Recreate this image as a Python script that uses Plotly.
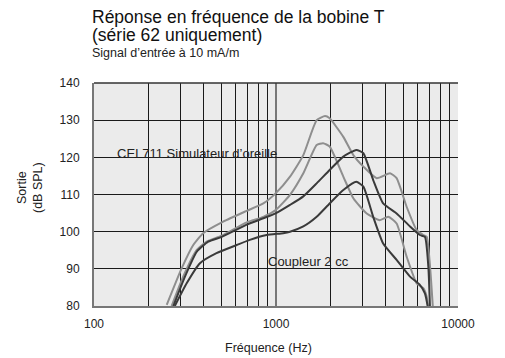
import plotly.graph_objects as go

# Frequencies (Hz) and output (dB SPL)
cei_high_f = [251, 303, 351, 398, 513, 690, 852, 995, 1194, 1413, 1673, 1860, 1972, 2344, 2660, 3020, 3575, 4230, 4600, 5220, 5930, 6446, 6730, 7020, 7290]
cei_high_v = [80.3, 90.1, 96.4, 99.6, 102.7, 105.6, 107.6, 110.3, 114.8, 120.6, 130.0, 131.1, 130.5, 125.5, 120.6, 117.5, 114.4, 115.7, 114.4, 106.7, 100.4, 99.1, 98.6, 90.6, 79.0]

cei_low_f = [267, 309, 367, 416, 503, 690, 852, 995, 1194, 1413, 1673, 1815, 1972, 2344, 2660, 3150, 3720, 4140, 4600, 5220, 5930, 6446, 6730, 6870]
cei_low_v = [80.0, 87.9, 95.1, 97.3, 98.9, 102.5, 104.0, 105.8, 109.9, 115.7, 123.3, 123.8, 122.9, 114.8, 109.0, 104.9, 103.1, 104.0, 102.2, 93.3, 86.1, 84.8, 82.5, 79.0]

cpl_high_f = [273, 316, 367, 424, 503, 690, 852, 995, 1194, 1413, 1673, 1972, 2344, 2763, 3020, 3420, 3880, 4600, 5450, 6170, 6580, 6870, 7020]
cpl_high_v = [80.0, 87.9, 94.6, 97.3, 98.6, 101.9, 103.6, 104.9, 107.2, 109.5, 113.0, 116.6, 120.2, 122.0, 121.1, 113.9, 107.6, 104.9, 101.4, 99.1, 98.6, 90.6, 79.0]

cpl_low_f = [278, 323, 382, 471, 608, 718, 888, 1095, 1194, 1413, 1673, 1972, 2344, 2763, 3020, 3420, 3880, 4600, 5450, 6170, 6580, 6870]
cpl_low_v = [80.0, 86.1, 91.5, 94.2, 96.4, 97.8, 99.1, 99.6, 100.0, 101.4, 104.0, 107.6, 111.2, 113.4, 112.1, 104.0, 96.8, 92.4, 87.9, 85.7, 83.4, 79.0]

x_ticks = [100, 1000, 10000]
y_ticks = [80, 90, 100, 110, 120, 130, 140]

LIGHT = "#8e8e8e"
DARK = "#3a3a3a"
FONT = "Liberation Sans, Arial, sans-serif"

fig = go.Figure()
for fx, vy, col in [(cei_high_f, cei_high_v, LIGHT), (cei_low_f, cei_low_v, LIGHT),
                    (cpl_high_f, cpl_high_v, DARK), (cpl_low_f, cpl_low_v, DARK)]:
    fig.add_trace(go.Scatter(x=fx, y=vy, mode="lines", line=dict(color=col, width=2, shape="spline", smoothing=0.5),
                             showlegend=False, hoverinfo="skip"))

fig.update_layout(
    width=505, height=358,
    margin=dict(l=94, r=47, t=83, b=52),
    paper_bgcolor="white", plot_bgcolor="#ebebeb",
    font=dict(family=FONT, size=12, color="#222"),
    showlegend=False,
)
fig.update_xaxes(
    type="log", range=[2, 4], tickvals=x_ticks, ticktext=[str(v) for v in x_ticks],
    showgrid=True, gridcolor="#777", gridwidth=2,
    minor=dict(dtick="D1", showgrid=True, gridcolor="#1a1a1a", gridwidth=1.3, ticks=""),
    ticks="", showline=True, linecolor="#777", linewidth=2, mirror=False,
    tickfont=dict(size=12, color="#222"), zeroline=False, ticklabelstandoff=6,
)
fig.update_yaxes(
    range=[80, 140], tickvals=y_ticks, showgrid=True, gridcolor="#1a1a1a", gridwidth=1.3,
    ticks="", showline=True, linecolor="#777", linewidth=2,
    tickfont=dict(size=12, color="#222"), zeroline=False, ticklabelstandoff=10,
)
# top border
fig.add_shape(type="line", xref="paper", yref="paper", x0=0, x1=1, y0=1, y1=1, line=dict(color="#333", width=1.5))

ann = [
    dict(text="Réponse en fréquence de la bobine T", x=91, y=6, size=17.5, color="#111"),
    dict(text="(série 62 uniquement)", x=91, y=24, size=17.5, color="#111"),
    dict(text="Signal d’entrée à 10 mA/m", x=91, y=45, size=12.5, color="#222"),
]
for a in ann:
    fig.add_annotation(text=a["text"], xref="paper", yref="paper",
                       x=(a["x"] - 94) / 364, y=1 - (a["y"] - 83) / 223,
                       xanchor="left", yanchor="top", showarrow=False, borderpad=0,
                       font=dict(size=a["size"], color=a["color"], family=FONT))

fig.add_annotation(text="CEI 711 Simulateur d’oreille", xref="paper", yref="y", x=(115 - 94) / 364, y=121.1,
                   xanchor="left", yanchor="middle", showarrow=False, font=dict(size=13, color="#222"))
fig.add_annotation(text="Coupleur 2 cc", xref="paper", yref="y", x=(266 - 94) / 364, y=91.9,
                   xanchor="left", yanchor="middle", showarrow=False, font=dict(size=13, color="#222"))
fig.add_annotation(text="Sortie<br>(dB SPL)", xref="paper", yref="paper", x=(30 - 94) / 364, y=1 - (188 - 83) / 223,
                   xanchor="center", yanchor="middle", showarrow=False, textangle=-90,
                   font=dict(size=12.5, color="#222"))
fig.add_annotation(text="Fréquence (Hz)", xref="paper", yref="paper", x=(268 - 94) / 364, y=-(348 - 306) / 223,
                   xanchor="center", yanchor="middle", showarrow=False, font=dict(size=12.5, color="#222"))

fig.write_html("out.html")
